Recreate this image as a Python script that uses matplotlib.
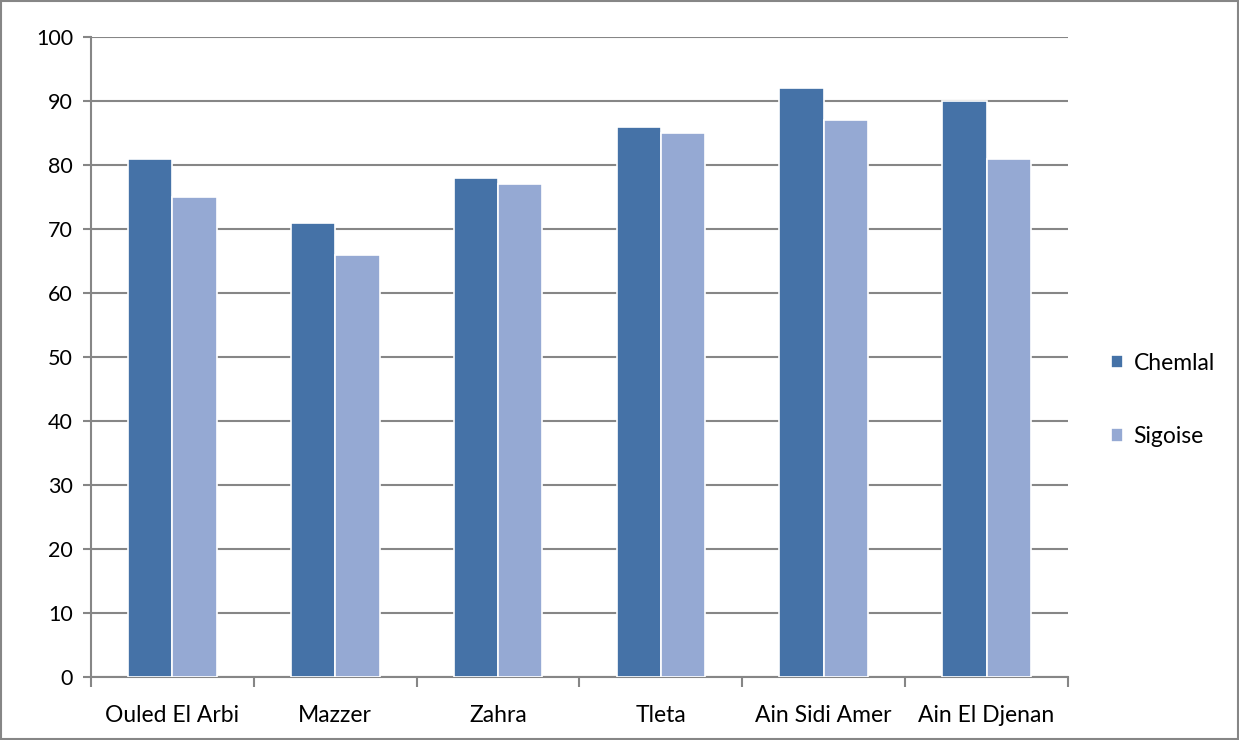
import matplotlib.pyplot as plt
import matplotlib.patches as mpatches
import numpy as np

plt.rcParams["font.family"] = ["Lato", "DejaVu Sans"]

categories = ["Ouled El Arbi", "Mazzer", "Zahra", "Tleta", "Ain Sidi Amer", "Ain El Djenan"]
chemlal = [81, 71, 78, 86, 92, 90]
sigoise = [75, 66, 77, 85, 87, 81]

DARK = "#4572A7"
LIGHT = "#95A9D3"
GRID = "#868686"

fig = plt.figure(figsize=(12.39, 7.40), dpi=100)
ax = fig.add_axes([91 / 1239, 1 - 677 / 740, (1068 - 91) / 1239, (677 - 37) / 740])

x = np.arange(len(categories))
w = 0.272
ax.bar(x - w / 2, chemlal, w, color=DARK, edgecolor="white", linewidth=1.2, label="Chemlal", zorder=3)
ax.bar(x + w / 2, sigoise, w, color=LIGHT, edgecolor="white", linewidth=1.2, label="Sigoise", zorder=3)

ax.set_xlim(-0.5, len(categories) - 0.5)
ax.set_ylim(0, 100)
ax.set_yticks(range(0, 101, 10))
ax.yaxis.grid(True, color=GRID, linewidth=1.5)
ax.set_axisbelow(True)

ax.set_xticks(x)
ax.set_xticklabels(categories, fontsize=16.5)
ax.set_xticks(np.arange(-0.5, len(categories)), minor=True)
ax.tick_params(axis="x", which="major", length=0, pad=20)
ax.tick_params(axis="x", which="minor", length=7, width=1.5, color=GRID, direction="out")
ax.tick_params(axis="y", length=6, width=1.5, color=GRID, labelsize=15.5, pad=7)

for side in ["top", "right"]:
    ax.spines[side].set_visible(False)
for side in ["left", "bottom"]:
    ax.spines[side].set_color(GRID)
    ax.spines[side].set_linewidth(1.5)

leg = fig.legend(
    loc="center left",
    bbox_to_anchor=(1090 / 1239, 1 - 400 / 740),
    frameon=False,
    fontsize=16.5,
    handlelength=0.55,
    handleheight=0.55,
    handletextpad=0.45,
    labelspacing=2.3,
)

fig.patches.append(
    mpatches.Rectangle((0.0008, 0.0012), 0.9984, 0.9976, transform=fig.transFigure,
                       fill=False, edgecolor=GRID, linewidth=1.5)
)

fig.savefig("out.png", dpi=100, facecolor="white")
